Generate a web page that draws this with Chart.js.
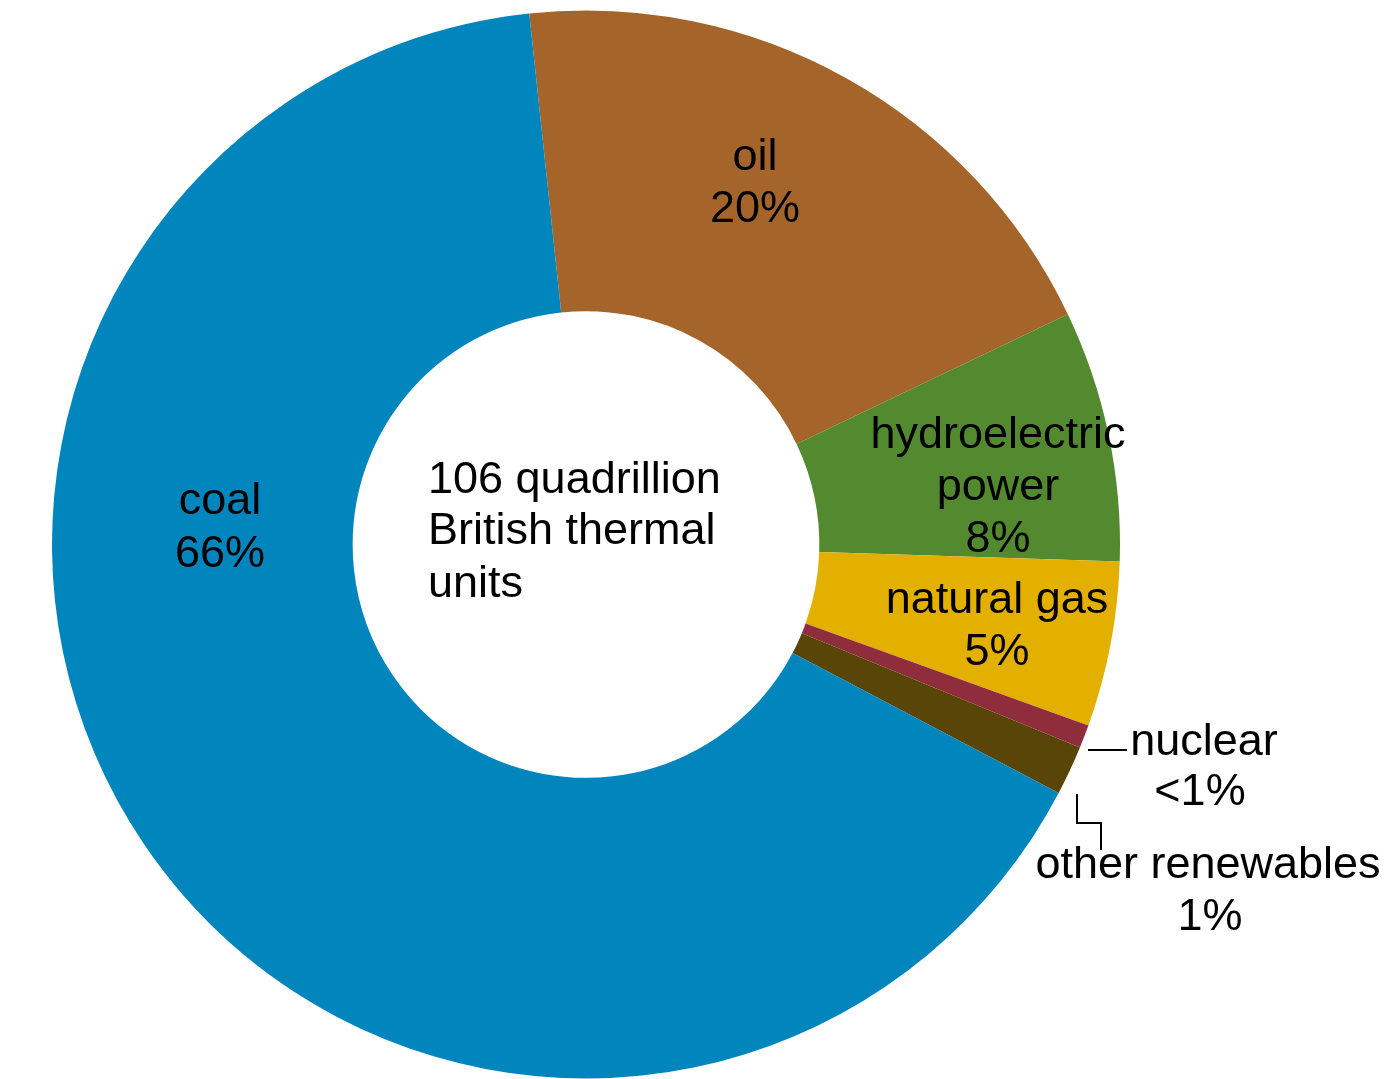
<!DOCTYPE html>
<html>
<head>
<meta charset="utf-8">
<script src="https://cdn.jsdelivr.net/npm/chart.js@4.4.1/dist/chart.umd.min.js"></script>
<style>
  html, body { margin: 0; padding: 0; background: #ffffff; }
  #wrap { width: 1386px; height: 1079px; position: relative; }
</style>
</head>
<body>
<div id="wrap"><canvas id="c" width="1386" height="1079"></canvas></div>
<script>
// ---- data ----
const categories = ["oil", "hydroelectric power", "natural gas", "nuclear", "other renewables", "coal"];
const shares = [19.6, 7.6, 5.0, 0.7, 1.5, 65.6];
const shareLabels = ["20%", "8%", "5%", "<1%", "1%", "66%"];
const sliceColors = ["#A5652A", "#538A2F", "#E3B000", "#8F2D3C", "#5A4508", "#0085BD"];
const centerLines = ["106 quadrillion", "British thermal", "units"];

const FONT = '45px "Liberation Sans", Arial, sans-serif';

const labelPlugin = {
  id: 'labels',
  afterDraw(chart) {
    const ctx = chart.ctx;
    ctx.save();
    ctx.fillStyle = '#000';
    ctx.font = FONT;
    ctx.textBaseline = 'alphabetic';

    // center text (left aligned)
    ctx.textAlign = 'left';
    const cb = [493, 544, 597];
    centerLines.forEach((t, i) => ctx.fillText(t, 428, cb[i]));

    ctx.textAlign = 'center';
    // oil
    ctx.fillText(categories[0], 755, 170);
    ctx.fillText(shareLabels[0], 755, 222);
    // hydro
    ctx.fillText("hydroelectric", 998, 448);
    ctx.fillText("power", 998, 500);
    ctx.fillText(shareLabels[1], 998, 552);
    // natural gas
    ctx.fillText(categories[2], 997, 613);
    ctx.fillText(shareLabels[2], 997, 665);
    // nuclear
    ctx.fillText(categories[3], 1204, 755);
    ctx.fillText(shareLabels[3], 1200, 805);
    // other renewables
    ctx.fillText(categories[4], 1208, 878);
    ctx.fillText(shareLabels[4], 1210, 930);
    // coal
    ctx.fillText(categories[5], 220, 514);
    ctx.fillText(shareLabels[5], 220, 567);

    // leader lines
    ctx.strokeStyle = '#000';
    ctx.lineWidth = 2;
    ctx.beginPath();
    ctx.moveTo(1088, 750);
    ctx.lineTo(1127, 750);
    ctx.stroke();
    ctx.beginPath();
    ctx.moveTo(1077, 794);
    ctx.lineTo(1077, 823);
    ctx.lineTo(1101, 823);
    ctx.lineTo(1101, 850);
    ctx.stroke();
    ctx.restore();
  }
};

new Chart(document.getElementById('c'), {
  type: 'doughnut',
  data: {
    labels: categories,
    datasets: [{
      data: shares,
      backgroundColor: sliceColors,
      borderWidth: 0
    }]
  },
  options: {
    responsive: false,
    animation: false,
    rotation: -6.1,
    cutout: '43.7%',
    layout: { padding: { left: 52, right: 266, top: 10, bottom: 0 } },
    plugins: {
      legend: { display: false },
      tooltip: { enabled: false }
    }
  },
  plugins: [labelPlugin]
});
</script>
</body>
</html>
